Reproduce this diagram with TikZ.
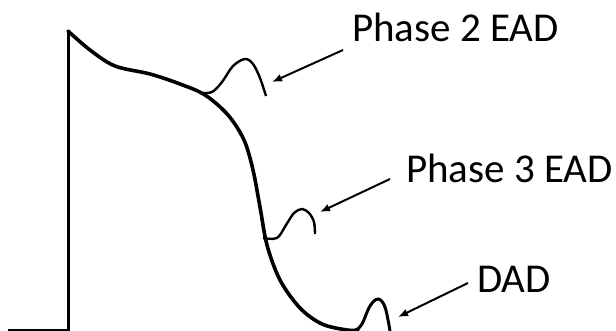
\documentclass[tikz,border=0pt]{standalone}
\usepackage{fontspec}
\setmainfont{Carlito}
\usetikzlibrary{arrows.meta}
\begin{document}
\begin{tikzpicture}[x=1pt,y=-1pt,
  trace/.style={line width=3.6pt,line join=round,line cap=round},
  bump/.style={line width=2.4pt,line cap=butt},
  lbl/.style={anchor=base west,inner sep=0pt,font=\fontsize{41}{41}\selectfont},
  pointer/.style={line width=2pt,-{Latex[length=10pt,width=8pt]}}]
\useasboundingbox[fill=white] (0,0) rectangle (616,331);
% baseline and upstroke
\draw[line width=3pt] (8,330) -- (68,330) -- (68,31);
% main action potential
\draw[trace] plot[smooth,tension=0.55] coordinates {(68,31) (90,50) (115,66) (150,74) (180,84) (205,95) (228,115) (244,140) (253,170) (260,207) (267,245) (280,280) (300,308) (322,324) (347,330) (358,330)};
% DAD bump
\draw[line width=3pt] plot[smooth,tension=0.6] coordinates {(356,330) (362,324) (370,306) (378,299) (385,307) (390,331)};
% phase 2 EAD
\draw[bump] plot[smooth,tension=0.55] coordinates {(200,93) (212,92) (222,82) (233,66) (245,59) (253,64) (260,78) (266,96)};
% phase 3 EAD
\draw[bump] plot[smooth,tension=0.55] coordinates {(263,238) (277,238) (286,225) (294,213) (302,209) (309,213) (314,222) (315,234)};
% labels
\node[lbl] (p2) at (352,42) {Phase 2 EAD};
\node[lbl] (p3) at (406,183) {Phase 3 EAD};
\node[lbl] (dad) at (477,293) {DAD};
% arrows
\coordinate (p2s) at (343,50);
\coordinate (p2e) at (272,82);
\coordinate (p3s) at (390,179);
\coordinate (p3e) at (320,212);
\coordinate (ds) at (468,283);
\coordinate (de) at (398,317);
\draw[pointer] (p2s) -- (p2e);
\draw[pointer] (p3s) -- (p3e);
\draw[pointer] (ds) -- (de);
\end{tikzpicture}
\end{document}
